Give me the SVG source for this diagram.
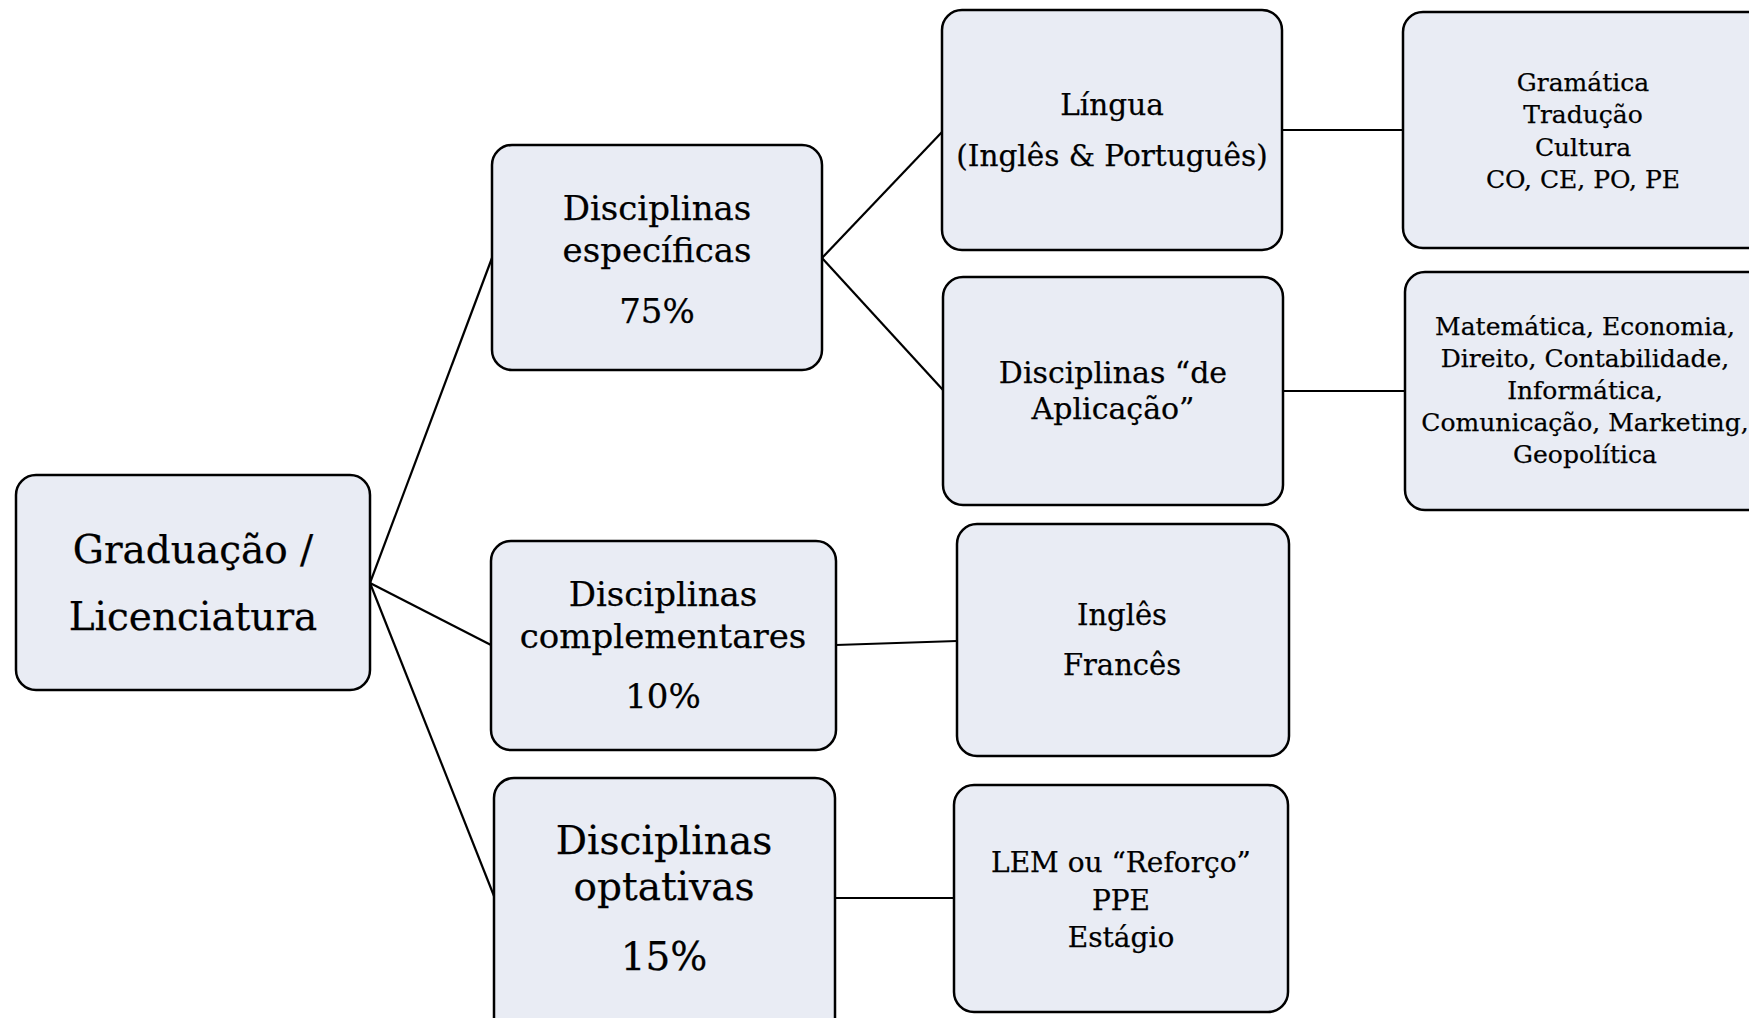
<svg xmlns="http://www.w3.org/2000/svg" width="1749" height="1018" viewBox="0 0 1749 1018">
<style>
.box{fill:#E9ECF4;stroke:#000;stroke-width:2.5}
.t{font-family:"DejaVu Serif","Liberation Serif",serif;fill:#000;stroke:#000;stroke-width:0.25;text-anchor:middle}
.c{stroke:#000;stroke-width:2.2;fill:none}
</style>
<rect width="1749" height="1018" fill="#fff"/>
<g id="connectors">
<line class="c" x1="370" y1="583" x2="492" y2="258"/>
<line class="c" x1="370" y1="583" x2="491" y2="645"/>
<line class="c" x1="370" y1="583" x2="494" y2="896"/>
<line class="c" x1="822" y1="258" x2="942" y2="132"/>
<line class="c" x1="822" y1="258" x2="943" y2="390"/>
<line class="c" x1="1282" y1="130" x2="1403" y2="130"/>
<line class="c" x1="1283" y1="391" x2="1405" y2="391"/>
<line class="c" x1="836" y1="645" x2="957" y2="641"/>
<line class="c" x1="835" y1="898" x2="954" y2="898"/>
</g>
<g id="root">
<rect class="box" x="16" y="475" width="354" height="215" rx="20"/>
<text class="t" font-size="39"><tspan x="193" y="563">Graduação /</tspan><tspan x="193" y="630">Licenciatura</tspan></text>
</g>
<g id="especificas">
<rect class="box" x="492" y="145" width="330" height="225" rx="20"/>
<text class="t" font-size="34"><tspan x="657" y="220">Disciplinas</tspan><tspan x="657" y="262">específicas</tspan><tspan x="657" y="323">75%</tspan></text>
</g>
<g id="lingua">
<rect class="box" x="942" y="10" width="340" height="240" rx="20"/>
<text class="t" font-size="29.5"><tspan x="1112" y="115">Língua</tspan><tspan x="1112" y="166">(Inglês &amp; Português)</tspan></text>
</g>
<g id="gramatica">
<rect class="box" x="1403" y="12" width="370" height="236" rx="20"/>
<text class="t" font-size="25"><tspan x="1583" y="91">Gramática</tspan><tspan x="1583" y="123">Tradução</tspan><tspan x="1583" y="156">Cultura</tspan><tspan x="1583" y="188">CO, CE, PO, PE</tspan></text>
</g>
<g id="aplicacao">
<rect class="box" x="943" y="277" width="340" height="228" rx="20"/>
<text class="t" font-size="30"><tspan x="1113" y="383">Disciplinas “de</tspan><tspan x="1113" y="419">Aplicação”</tspan></text>
</g>
<g id="matematica">
<rect class="box" x="1405" y="272" width="370" height="238" rx="20"/>
<text class="t" font-size="25"><tspan x="1585" y="335">Matemática, Economia,</tspan><tspan x="1585" y="367">Direito, Contabilidade,</tspan><tspan x="1585" y="399">Informática,</tspan><tspan x="1585" y="431">Comunicação, Marketing,</tspan><tspan x="1585" y="463">Geopolítica</tspan></text>
</g>
<g id="complementares">
<rect class="box" x="491" y="541" width="345" height="209" rx="20"/>
<text class="t" font-size="34"><tspan x="663" y="606">Disciplinas</tspan><tspan x="663" y="648">complementares</tspan><tspan x="663" y="708">10%</tspan></text>
</g>
<g id="ingles">
<rect class="box" x="957" y="524" width="332" height="232" rx="20"/>
<text class="t" font-size="29"><tspan x="1122" y="625">Inglês</tspan><tspan x="1122" y="675">Francês</tspan></text>
</g>
<g id="optativas">
<rect class="box" x="494" y="778" width="341" height="260" rx="20"/>
<text class="t" font-size="39"><tspan x="664" y="854">Disciplinas</tspan><tspan x="664" y="900">optativas</tspan><tspan x="664" y="970">15%</tspan></text>
</g>
<g id="lem">
<rect class="box" x="954" y="785" width="334" height="227" rx="20"/>
<text class="t" font-size="28"><tspan x="1121" y="872">LEM ou “Reforço”</tspan><tspan x="1121" y="910">PPE</tspan><tspan x="1121" y="947">Estágio</tspan></text>
</g>
</svg>
